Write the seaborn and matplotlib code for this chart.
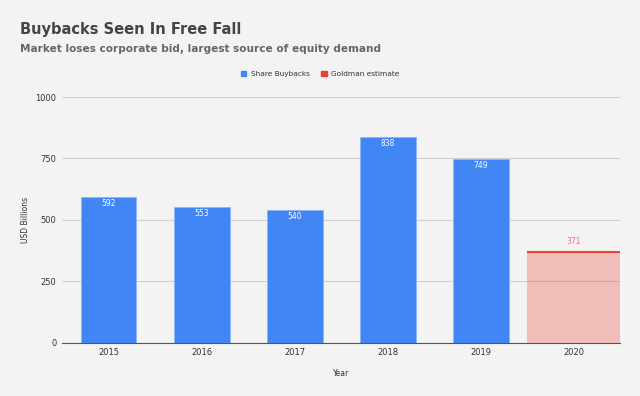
import pandas as pd
import matplotlib.pyplot as plt
import seaborn as sns
from matplotlib.patches import Patch

years = ["2015", "2016", "2017", "2018", "2019", "2020"]
values = [592, 553, 540, 838, 749, 371]
kinds = ["Share Buybacks"] * 5 + ["Goldman estimate"]

df = pd.DataFrame({"year": years, "value": values, "kind": kinds})

bg = "#f3f3f3"
blue = "#4285f4"
red = "#ea4335"

sns.set_style("white")
plt.rcParams["font.family"] = ["DejaVu Sans"]

fig = plt.figure(figsize=(6.4, 3.96), dpi=100, facecolor=bg)
ax = fig.add_axes([0.097, 0.134, 0.872, 0.621], facecolor=bg)

sns.barplot(data=df, x="year", y="value", hue="kind", dodge=False, width=0.6,
            palette={"Share Buybacks": blue, "Goldman estimate": red},
            saturation=1, legend=False, ax=ax, edgecolor="#8fb4f8", linewidth=0.6)

# estimate bar: full width, light fill, red top line
for p in ax.patches:
    if abs(p.get_height() - values[-1]) < 1e-6:
        cx = p.get_x() + p.get_width() / 2
        p.set_x(cx - 0.5)
        p.set_width(1.0)
        p.set_facecolor((0.918, 0.263, 0.208, 0.3))
        p.set_edgecolor("none")
        ax.hlines(values[-1], cx - 0.5, cx + 0.5, color=red, lw=1.5, zorder=4)

for i, (y, v) in enumerate(zip(years, values)):
    if i < 5:
        ax.text(i, v - 26, str(v), ha="center", va="center", color="white", fontsize=5.5)
    else:
        ax.text(i, v + 40, str(v), ha="center", va="center", color="#f07a70", fontsize=5.5)

ax.set_ylim(0, 1000)
ax.set_xlim(-0.5, 5.5)
ax.set_yticks([0, 250, 500, 750, 1000])
ax.yaxis.grid(True, color="#d0d0d0", lw=0.8)
ax.set_axisbelow(True)
for s in ["top", "right", "left"]:
    ax.spines[s].set_visible(False)
ax.spines["bottom"].set_color("#555555")
ax.tick_params(axis="both", length=0, labelsize=6, labelcolor="#333333", pad=4)
ax.set_xlabel("Year", fontsize=5.5, color="#333333", labelpad=8)
ax.set_ylabel("USD Billions", fontsize=5.5, color="#333333", labelpad=4)

fig.text(0.031, 0.925, "Buybacks Seen In Free Fall", fontsize=10.5, fontweight="bold",
         color="#444444", va="center")
fig.text(0.031, 0.876, "Market loses corporate bid, largest source of equity demand",
         fontsize=7.6, fontweight="bold", color="#666666", va="center")

handles = [Patch(color=blue, label="Share Buybacks"), Patch(color=red, label="Goldman estimate")]
fig.legend(handles=handles, loc="center", bbox_to_anchor=(0.5, 0.813), ncol=2, frameon=False,
           fontsize=5.3, handlelength=0.8, handleheight=0.8, columnspacing=1.5, handletextpad=0.6,
           labelcolor="#333333")

fig.savefig("out.png", dpi=100, facecolor=bg)
